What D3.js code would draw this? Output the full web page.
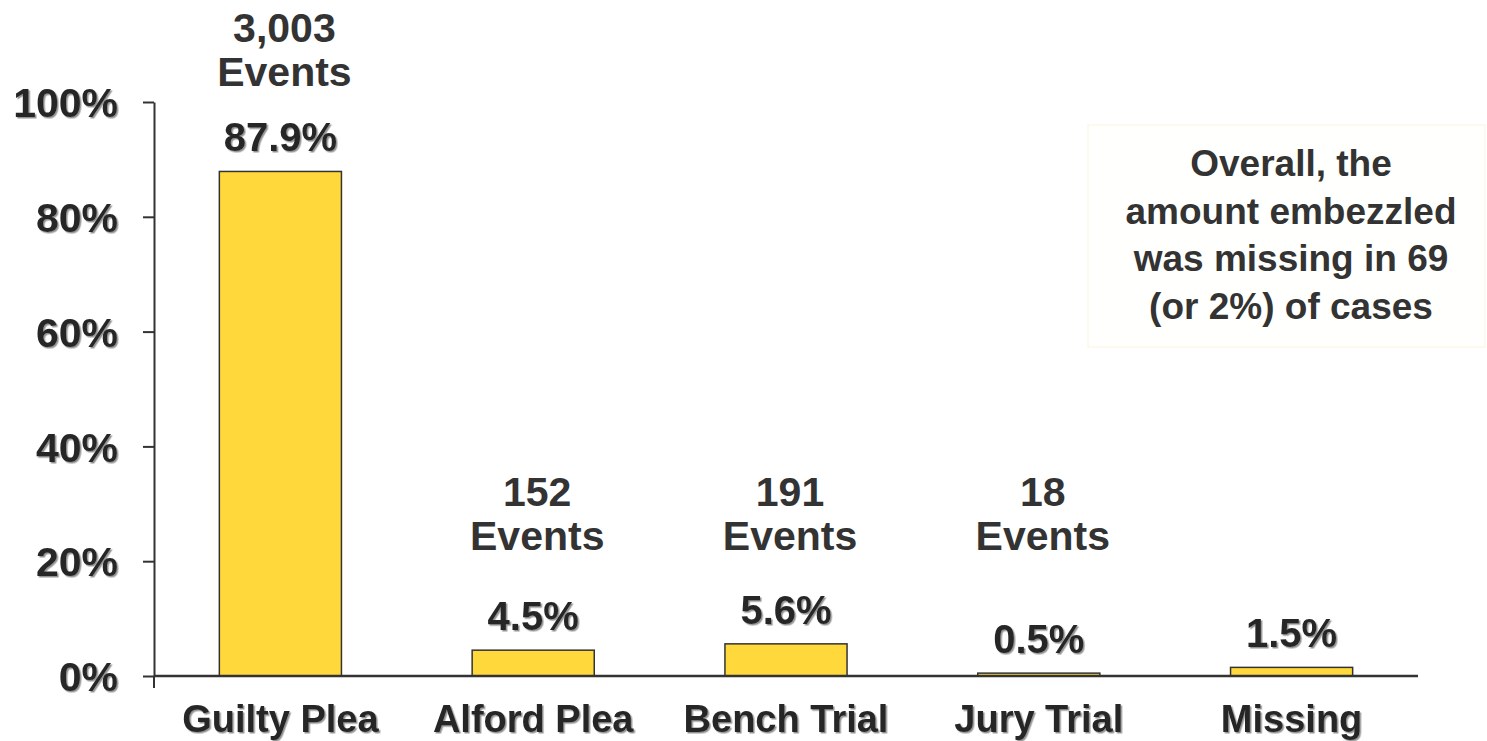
<!DOCTYPE html>
<html>
<head>
<meta charset="utf-8">
<script src="https://cdnjs.cloudflare.com/ajax/libs/d3/7.8.5/d3.min.js"></script>
<style>
  body { margin: 0; background: #fff; }
  svg text { font-family: "Liberation Sans", Arial, sans-serif; font-weight: bold; fill: #262626; }
</style>
</head>
<body>
<script>
//chart data
var categories = ["Guilty Plea", "Alford Plea", "Bench Trial", "Jury Trial", "Missing"];
var percents = [87.9, 4.5, 5.6, 0.5, 1.5];
var eventCounts = ["3,003", "152", "191", "18", null];
var yTicks = [0, 20, 40, 60, 80, 100];
var noteLines = ["Overall, the", "amount embezzled", "was missing in 69", "(or 2%) of cases"];

(function(){
    var width = 1487, height = 741;
    //plot frame (note: "top" is a reserved window property, so use plot* names)
    var plotLeft = 154, plotRight = 1418, plotTop = 102, plotBottom = 676;

    var svg = d3.select("body").append("svg")
        .attr("width", width)
        .attr("height", height);

    //soft grey shadow used on the axis and value labels
    var defs = svg.append("defs");
    defs.append("filter").attr("id", "shadow")
        .attr("x", "-10%").attr("y", "-10%").attr("width", "130%").attr("height", "130%")
      .append("feDropShadow")
        .attr("dx", 1.5).attr("dy", 1.5)
        .attr("stdDeviation", 0.7)
        .attr("flood-color", "#777")
        .attr("flood-opacity", 0.8);

    var x = d3.scaleBand()
        .domain(categories)
        .range([plotLeft, plotRight])
        .paddingInner(0.517)
        .paddingOuter(0.2585);

    var y = d3.scaleLinear().domain([0, 100]).range([plotBottom, plotTop]);

    //y axis
    var yAxis = svg.append("g")
        .attr("transform", "translate(" + plotLeft + ",0)")
        .call(d3.axisLeft(y).tickValues(yTicks).tickSize(11).tickSizeOuter(0)
            .tickFormat(function(d){ return d + "%"; }));
    yAxis.select(".domain").attr("stroke", "#333").attr("stroke-width", 2);
    yAxis.selectAll(".tick line").attr("stroke", "#333").attr("stroke-width", 2);
    yAxis.selectAll(".tick text")
        .attr("x", -36)
        .attr("dy", "0.36em")
        .attr("font-size", 41)
        .attr("filter", "url(#shadow)")
        .style("font-family", "\"Liberation Sans\", Arial, sans-serif")
        .style("font-weight", "bold")
        .attr("fill", "#262626");

    //bars
    svg.selectAll(".bar")
        .data(percents)
        .enter()
        .append("rect")
        .attr("class", "bar")
        .attr("x", function(d, i){ return x(categories[i]); })
        .attr("width", x.bandwidth())
        .attr("y", function(d){ return y(d); })
        .attr("height", function(d){ return y(0) - y(d); })
        .attr("fill", "#ffd93b")
        .attr("stroke", "#333")
        .attr("stroke-width", 1.5);

    //x axis line with the single left tick
    svg.append("line")
        .attr("x1", plotLeft).attr("x2", plotRight)
        .attr("y1", plotBottom).attr("y2", plotBottom)
        .attr("stroke", "#333").attr("stroke-width", 2.5);
    svg.append("line")
        .attr("x1", plotLeft).attr("x2", plotLeft)
        .attr("y1", plotBottom).attr("y2", plotBottom + 12)
        .attr("stroke", "#333").attr("stroke-width", 2);

    //category labels
    svg.selectAll(".cat")
        .data(categories)
        .enter()
        .append("text")
        .attr("class", "cat")
        .attr("x", function(d){ return x(d) + x.bandwidth() / 2; })
        .attr("y", 732)
        .attr("text-anchor", "middle")
        .attr("font-size", 38)
        .attr("filter", "url(#shadow)")
        .text(function(d){ return d; });

    //value labels
    svg.selectAll(".val")
        .data(percents)
        .enter()
        .append("text")
        .attr("class", "val")
        .attr("x", function(d, i){ return x(categories[i]) + x.bandwidth() / 2; })
        .attr("y", function(d){ return y(d) - 20; })
        .attr("text-anchor", "middle")
        .attr("font-size", 40)
        .attr("filter", "url(#shadow)")
        .text(function(d){ return d.toFixed(1) + "%"; });

    //event count labels
    var events = svg.selectAll(".events")
        .data(eventCounts)
        .enter()
        .append("text")
        .attr("class", "events")
        .attr("text-anchor", "middle")
        .attr("font-size", 41)
        .style("fill", "#333")
        .attr("transform", function(d, i){
            var cx = x(categories[i]) + x.bandwidth() / 2 + 4;
            var ty = Math.min(y(percents[i]) - 129, y(32) + 14);
            return "translate(" + cx + "," + ty + ")";
        })
        .filter(function(d){ return d !== null; });
    events.append("tspan").attr("x", 0).attr("y", 0).text(function(d){ return d; });
    events.append("tspan").attr("x", 0).attr("y", 44).text("Events");

    //note box
    var note = svg.append("g");
    note.append("rect")
        .attr("x", 1088).attr("y", 125)
        .attr("width", 397).attr("height", 222)
        .attr("fill", "#fffffe")
        .attr("stroke", "#fbf8e8")
        .attr("stroke-width", 1.5);
    note.selectAll("text")
        .data(noteLines)
        .enter()
        .append("text")
        .attr("x", 1291)
        .attr("y", function(d, i){ return 176 + i * 47.5; })
        .attr("text-anchor", "middle")
        .attr("font-size", 37)
        .style("fill", "#333")
        .text(function(d){ return d; });
})();
</script>
</body>
</html>
